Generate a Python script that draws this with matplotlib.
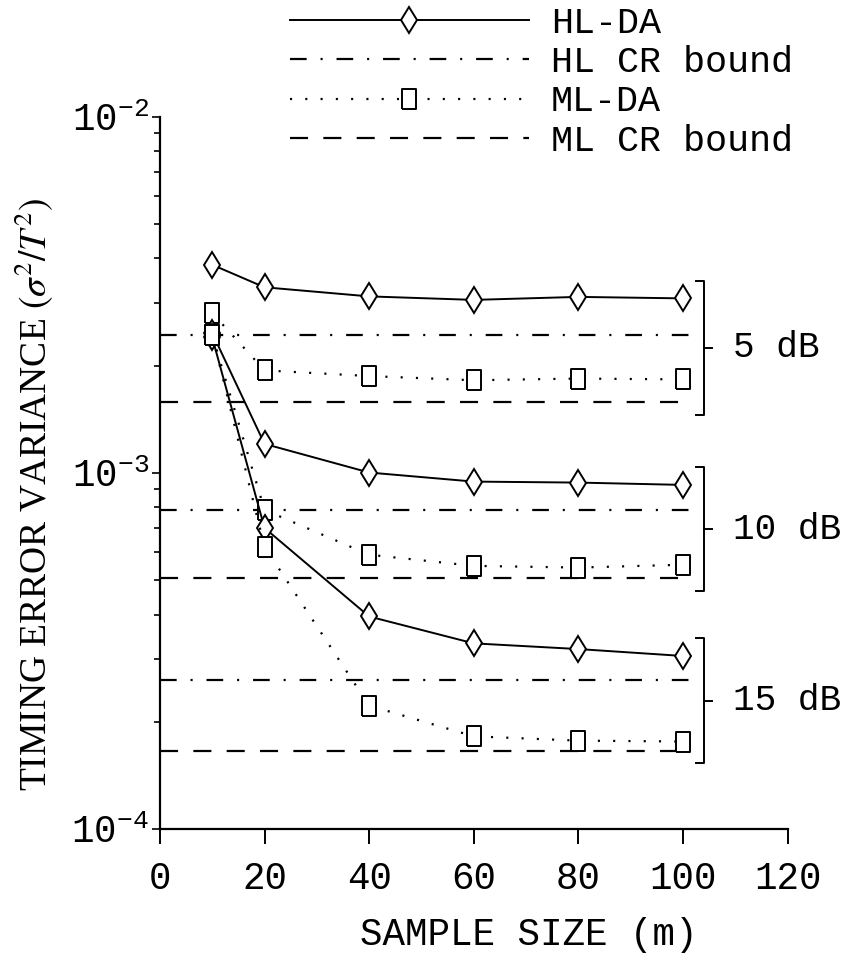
import matplotlib
matplotlib.use('Agg')
import matplotlib.pyplot as plt
from matplotlib.ticker import LogLocator, NullFormatter

plt.rcParams['font.family'] = 'Liberation Mono'
plt.rcParams['mathtext.fontset'] = 'stix'
plt.rcParams['lines.scale_dashes'] = False

# sample size m
sample_size = [10, 20, 40, 60, 80, 100]
snr_labels = ['5 dB', '10 dB', '15 dB']

# timing error variance (sigma^2 / T^2)
hl_da_5db = [3.84e-3, 3.32e-3, 3.13e-3, 3.06e-3, 3.12e-3, 3.09e-3]
ml_da_5db = [2.81e-3, 1.94e-3, 1.87e-3, 1.82e-3, 1.84e-3, 1.83e-3]
hl_da_10db = [2.47e-3, 1.206e-3, 1.002e-3, 9.45e-4, 9.39e-4, 9.25e-4]
ml_da_10db = [2.44e-3, 7.87e-4, 5.89e-4, 5.48e-4, 5.42e-4, 5.52e-4]
hl_da_15db = [2.40e-3, 7.0e-4, 3.95e-4, 3.32e-4, 3.20e-4, 3.06e-4]
ml_da_15db = [2.44e-3, 6.2e-4, 2.22e-4, 1.82e-4, 1.77e-4, 1.76e-4]
hl_cr_bound = [2.44e-3, 7.87e-4, 2.62e-4]
ml_cr_bound = [1.58e-3, 5.06e-4, 1.66e-4]

hl_da = [hl_da_5db, hl_da_10db, hl_da_15db]
ml_da = [ml_da_5db, ml_da_10db, ml_da_15db]

dashdot = (0, (12, 10, 1.5, 10))
dashed = (0, (13, 11))
dotted = (0, (1.5, 9.5))
rect = [(-0.34, -0.5), (0.34, -0.5), (0.34, 0.5), (-0.34, 0.5), (-0.34, -0.5)]

fig = plt.figure(figsize=(8.46, 9.65), dpi=100)
ax = fig.add_axes([0.189, 0.141, 0.742, 0.738])

handles = []
for i in range(3):
    h1, = ax.plot(sample_size, hl_da[i], color='black', lw=1.4, marker='d',
                  markersize=13, markerfacecolor='white', markeredgewidth=1.4,
                  zorder=3)
    h2, = ax.plot([0, 101.5], [hl_cr_bound[i]] * 2, color='black', lw=1.6,
                  linestyle=dashdot)
    h3, = ax.plot(sample_size, ml_da[i], color='black', lw=1.6, linestyle=dotted,
                  marker=rect, markersize=14.5, markerfacecolor='white',
                  markeredgewidth=1.4, zorder=3)
    h4, = ax.plot([0, 101.5], [ml_cr_bound[i]] * 2, color='black', lw=1.6,
                  linestyle=dashed)
    if i == 0:
        handles = [h1, h2, h3, h4]

    # bracket grouping the curves of one SNR
    top = hl_da[i][-1] * 1.12
    bottom = ml_cr_bound[i] * 0.92
    mid = (top * bottom) ** 0.5
    ax.plot([102.5, 104, 104, 102.5], [top, top, bottom, bottom],
            color='black', lw=1.4)
    ax.plot([104, 105.5], [mid, mid], color='black', lw=1.4)
    ax.text(109.5, mid, snr_labels[i], fontsize=26, va='center', ha='left')

ax.set_yscale('log')
ax.set_ylim(1e-4, 1e-2)
ax.set_xlim(0, 120)
ax.set_xticks([0, 20, 40, 60, 80, 100, 120])
ax.yaxis.set_minor_locator(LogLocator(base=10, subs=range(2, 10)))
ax.yaxis.set_minor_formatter(NullFormatter())

for side in ['top', 'right']:
    ax.spines[side].set_visible(False)
for side in ['left', 'bottom']:
    ax.spines[side].set_linewidth(1.6)

ax.tick_params(axis='x', which='major', direction='out', length=11, width=1.4,
               labelsize=27, pad=12)
ax.tick_params(axis='y', which='major', direction='out', length=6, width=1.2,
               labelsize=27, pad=2)
ax.tick_params(axis='y', which='minor', direction='out', length=4, width=1.2)

ax.set_ylabel(r'TIMING ERROR VARIANCE $(\sigma^2/T^2)$', fontsize=27,
              family='Liberation Serif')
ax.yaxis.set_label_coords(-0.165, 0.47)
fig.text(0.625, 0.031, 'SAMPLE SIZE (m)', fontsize=27, ha='center', va='center')

fig.legend(handles, ['HL-DA', 'HL CR bound', 'ML-DA', 'ML CR bound'],
           loc='upper left', bbox_to_anchor=(0.338, 0.998), frameon=False,
           fontsize=26.5, handlelength=6.5, handletextpad=0.6, numpoints=1,
           labelspacing=0.12, borderpad=0.1, borderaxespad=0)

fig.savefig('out.png', dpi=100)
